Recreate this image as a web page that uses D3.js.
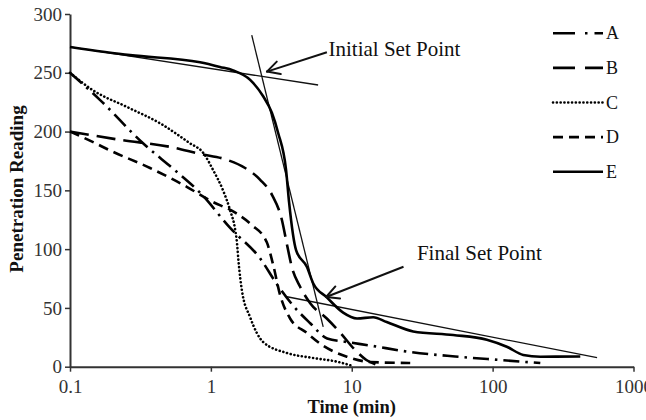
<!DOCTYPE html>
<html>
<head>
<meta charset="utf-8">
<script src="https://cdn.jsdelivr.net/npm/d3@7"></script>
<style>
  body { margin: 0; background: #fff; }
  text { font-family: "Liberation Serif", "Times New Roman", serif; }
</style>
</head>
<body>
<svg id="chart" width="646" height="420"></svg>
<script>
// Penetration reading versus time for five mixes (A–E)
const seriesNames = ["A", "B", "C", "D", "E"];

const timeA    = [0.1, 0.163, 0.330, 0.557, 0.838, 1.37, 2.24, 2.95, 3.83, 5.07, 6.69, 9.23, 13.5, 26, 54.2, 113, 218];
const readingA = [250, 227, 190, 167, 148, 118, 92, 70, 52, 37, 24, 21, 18, 12.5, 8.7, 5.7, 3.1];

const timeB    = [0.1, 0.226, 0.513, 0.838, 1.30, 1.75, 2.24, 2.72, 3.19, 3.48, 3.77, 4.30, 5.07, 6.65, 8.28, 10.6, 12.7, 15.3];
const readingB = [200, 193, 187, 181, 176, 169, 159, 146, 125, 103, 84, 68, 54, 41, 29, 14, 5.7, 1.4];

const timeC    = [0.1, 0.146, 0.253, 0.436, 0.711, 0.881, 1.04, 1.22, 1.37, 1.49, 1.53, 1.57, 1.66, 1.90, 2.35, 3.46, 5.32, 7.84, 10.2];
const readingC = [250, 235, 221, 207, 190, 182, 167, 150, 133, 116, 106, 90, 65, 42, 21, 11.7, 7.4, 4.3, 0.6];

const timeD    = [0.1, 0.146, 0.192, 0.370, 0.674, 1.0, 1.49, 1.95, 2.49, 2.77, 3.10, 3.65, 4.80, 6.14, 9.23, 13.5, 26];
const readingD = [200, 191, 184, 169, 153, 141, 131, 120.5, 106, 86.5, 61, 41, 28.7, 18.5, 8.5, 4, 3.1];

const timeE    = [0.1, 0.267, 0.838, 1.16, 1.44, 1.90, 2.35, 2.71, 3.00, 3.42, 3.59, 4.03, 4.80, 5.32, 6.65, 8.69, 10.9, 14.2, 17.7, 27.3, 52.5, 91, 126, 165, 218, 419];
const readingE = [272, 265, 259, 255, 252, 244, 230, 216, 199, 167, 140, 99, 85, 71, 59, 46, 41, 42, 38, 30, 27, 23, 17, 10, 8.5, 8.7];

const yTicks = [0, 50, 100, 150, 200, 250, 300];
const xTicks = [0.1, 1, 10, 100, 1000];
const xTickLabels = ["0.1", "1", "10", "100", "1000"];

// Tangent construction lines (start/end in data units)
const tangentStartT = [0.1, 1.95, 3.47];
const tangentStartR = [272, 282, 59.5];
const tangentEndT   = [5.77, 6.27, 551];
const tangentEndR   = [239.6, 33.8, 7.7];

// Set point call-outs
const calloutLabels = ["Initial Set Point", "Final Set Point"];
const calloutTextT  = [6.84, 29];
const calloutTextR  = [264.3, 90.8];
const arrowTailT    = [6.66, 23.3];
const arrowTailR    = [267.4, 85];
const arrowTipT     = [2.50, 6.58];
const arrowTipR     = [251, 59.3];

const svg = d3.select("#chart");
const x = d3.scaleLog().domain([0.1, 1000]).range([70, 633.5]);
const y = d3.scaleLinear().domain([0, 300]).range([366.7, 14]);

const styles = {
  A: { dash: "16,6,2.5,6", cap: "butt" },
  B: { dash: "19,8", cap: "butt" },
  C: { dash: "0.1,3.7", cap: "round" },
  D: { dash: "10,6", cap: "butt" },
  E: { dash: null, cap: "butt" }
};

const seriesData = {
  A: timeA.map((t, i) => ({ t, r: readingA[i] })),
  B: timeB.map((t, i) => ({ t, r: readingB[i] })),
  C: timeC.map((t, i) => ({ t, r: readingC[i] })),
  D: timeD.map((t, i) => ({ t, r: readingD[i] })),
  E: timeE.map((t, i) => ({ t, r: readingE[i] }))
};

// Axes
const axisColor = "#333";
const yAxis = svg.append("g")
  .attr("transform", `translate(${x(0.1)},0)`)
  .call(d3.axisLeft(y).tickValues(yTicks).tickSize(5).tickSizeOuter(0).tickPadding(3));
const xAxis = svg.append("g")
  .attr("transform", `translate(0,${y(0)})`)
  .call(d3.axisBottom(x).tickValues(xTicks).tickFormat((d, i) => xTickLabels[i])
    .tickSize(5).tickSizeOuter(0).tickPadding(8));
[yAxis, xAxis].forEach(g => {
  g.select(".domain").attr("stroke", axisColor).attr("stroke-width", 2);
  g.selectAll(".tick line").attr("stroke", axisColor).attr("stroke-width", 1.5);
  g.selectAll(".tick text").attr("fill", "#333").attr("font-size", 19)
    .attr("font-family", "Liberation Serif");
});

svg.append("text")
  .attr("x", 351.7).attr("y", 413)
  .attr("text-anchor", "middle").attr("font-size", 18.5).attr("font-weight", "bold")
  .attr("fill", "#111")
  .text("Time (min)");
svg.append("text")
  .attr("transform", "translate(22.5,189) rotate(-90)")
  .attr("text-anchor", "middle").attr("font-size", 19).attr("font-weight", "bold")
  .attr("fill", "#111")
  .text("Penetration Reading");

// Tangent lines
const tangents = svg.append("g");
tangentStartT.forEach((t0, i) => {
  tangents.append("line")
    .attr("x1", x(t0)).attr("y1", y(tangentStartR[i]))
    .attr("x2", x(tangentEndT[i])).attr("y2", y(tangentEndR[i]))
    .attr("stroke", "#111").attr("stroke-width", 1.3);
});

// Curves
const line = d3.line().x(d => x(d.t)).y(d => y(d.r)).curve(d3.curveMonotoneX);
seriesNames.forEach(name => {
  svg.append("path")
    .datum(seriesData[name])
    .attr("d", line)
    .attr("fill", "none")
    .attr("stroke", "#000")
    .attr("stroke-width", 2.6)
    .attr("stroke-linecap", styles[name].cap)
    .attr("stroke-dasharray", styles[name].dash);
});

// Call-out arrows and labels
const callouts = svg.append("g");
calloutLabels.forEach((label, i) => {
  const x1 = x(arrowTailT[i]), y1 = y(arrowTailR[i]);
  const x2 = x(arrowTipT[i]), y2 = y(arrowTipR[i]);
  callouts.append("line").attr("x1", x1).attr("y1", y1).attr("x2", x2).attr("y2", y2)
    .attr("stroke", "#111").attr("stroke-width", 2);
  const ang = Math.atan2(y1 - y2, x1 - x2);
  [-1, 1].forEach(s => {
    const a = ang + s * 0.48;
    callouts.append("line")
      .attr("x1", x2).attr("y1", y2)
      .attr("x2", x2 + 14 * Math.cos(a)).attr("y2", y2 + 14 * Math.sin(a))
      .attr("stroke", "#111").attr("stroke-width", 2).attr("stroke-linecap", "round");
  });
  callouts.append("text")
    .attr("x", x(calloutTextT[i])).attr("y", y(calloutTextR[i]))
    .attr("font-size", 21).attr("fill", "#111")
    .text(label);
});

// Legend
const legend = svg.append("g");
seriesNames.forEach((name, i) => {
  const ly = 33.3 + i * 34.6;
  legend.append("line")
    .attr("x1", 553).attr("x2", 603).attr("y1", ly).attr("y2", ly)
    .attr("stroke", "#000").attr("stroke-width", 2.6)
    .attr("stroke-linecap", styles[name].cap)
    .attr("stroke-dasharray", name === "A" ? "22,10,2.5,7" : name === "B" ? "22,10" : styles[name].dash);
  legend.append("text")
    .attr("x", 606).attr("y", ly + 6)
    .attr("font-size", 18).attr("fill", "#111")
    .text(name);
});
</script>
</body>
</html>
